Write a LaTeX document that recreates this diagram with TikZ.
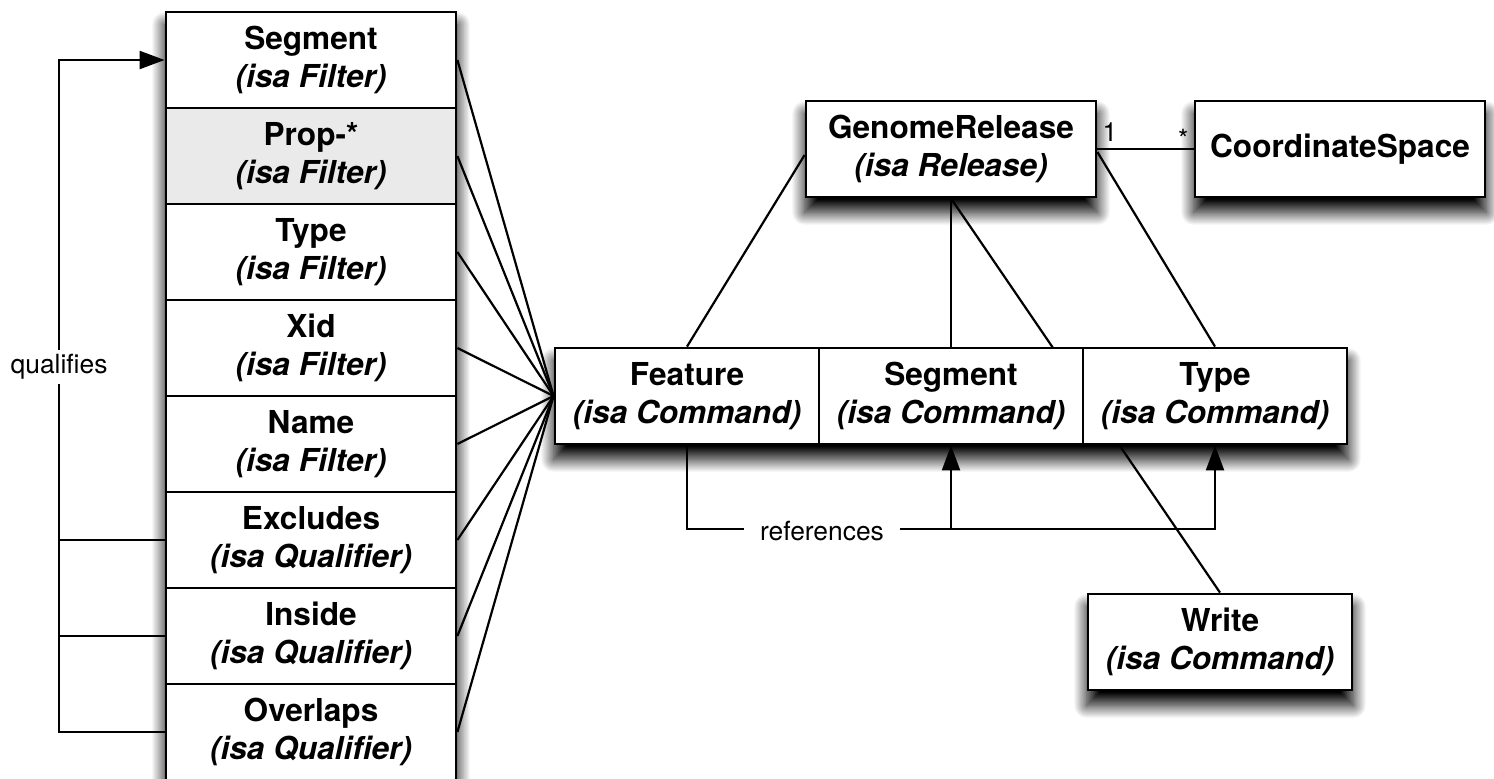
\documentclass[tikz,border=0pt]{standalone}
\usepackage{fontspec}
\setmainfont{TeX Gyre Heros}
\usetikzlibrary{arrows.meta,shadows.blur,backgrounds}
\definecolor{propgray}{RGB}{234,234,234}
\newcommand{\clsname}[2]{\textbf{#1}\\\textbf{\textit{(isa #2)}}}
\tikzset{
  cls/.style={draw, line width=1.4pt, fill=white, align=center, inner sep=0pt,
    minimum width=145pt, minimum height=48pt,
    font=\fontsize{15.8}{19}\selectfont},
  cmd/.style={cls, minimum width=132pt},
  lnk/.style={line width=1.1pt},
  lbl/.style={font=\fontsize{13.2}{15}\selectfont, inner sep=2pt},
  dropshadow/.style={blur shadow={shadow xshift=0pt, shadow yshift=-7pt,
    shadow blur radius=6.5pt, shadow opacity=100, shadow blur steps=30}}
}
\begin{document}
\begin{tikzpicture}[x=0.5pt,y=-0.5pt,>={Triangle[length=12.5pt,width=9pt]}]
  \useasboundingbox (0,0) rectangle (1494,778);
  % filters and qualifiers
  \foreach \name/\kind/\tint [count=\i] in {Segment/Filter/white,Prop-*/Filter/propgray,%
    Type/Filter/white,Xid/Filter/white,Name/Filter/white,Excludes/Qualifier/white,%
    Inside/Qualifier/white,Overlaps/Qualifier/white}
    \node[cls,fill=\tint] (f\i) at (311,{60+96*(\i-1)}) {\clsname{\name}{\kind}};
  % commands
  \node[cmd] (feat) at (687,396) {\clsname{Feature}{Command}};
  \node[cmd] (seg) at (951,396) {\clsname{Segment}{Command}};
  \node[cmd] (type) at (1215,396) {\clsname{Type}{Command}};
  \node[cmd] (write) at (1220,642) {\clsname{Write}{Command}};
  \node[cls] (gr) at (951,149) {\clsname{GenomeRelease}{Release}};
  \node[cls] (cs) at (1340,149) {\textbf{CoordinateSpace}};
  \begin{scope}[on background layer]
    \path[dropshadow] (f1.north west) rectangle (f8.south east);
    \path[dropshadow] (feat.north west) rectangle (type.south east);
    \path[dropshadow] (gr.north west) rectangle (gr.south east);
    \path[dropshadow] (cs.north west) rectangle (cs.south east);
    \path[dropshadow] (write.north west) rectangle (write.south east);
    \draw[lnk] (gr.south) -- (write.north);
  \end{scope}
  % fan into Feature
  \foreach \i in {1,...,8}
    \draw[lnk] (f\i.east) -- (feat.west);
  % qualifies
  \coordinate (q) at (59,0);
  \draw[lnk,->] (f8.west) -- (f8.west -| q) |- (f1.west);
  \foreach \i in {6,7}
    \draw[lnk] (f\i.west) -- (f\i.west -| q);
  \node[lbl,fill=white] (qual) at (59,367) {qualifies};
  % release links
  \draw[lnk] ([yshift=-3pt]gr.west) -- (feat.north);
  \draw[lnk] (gr.south) -- (seg.north);
  \draw[lnk] ([yshift=-1.5pt]gr.east) -- (type.north);
  \draw[lnk] (gr.east) -- (cs.west)
    node[lbl,pos=0,anchor=south west,yshift=1pt] {1}
    node[lbl,pos=1,anchor=south east,yshift=-2.5pt] {*};
  % references
  \coordinate (r) at (0,529);
  \draw[lnk,->] (feat.south) -- (feat.south |- r) -| (type.south);
  \draw[lnk,->] (seg.south |- r) -- (seg.south);
  \node[lbl,fill=white,inner xsep=8pt] (refs) at (822,531) {references};
\end{tikzpicture}
\end{document}
